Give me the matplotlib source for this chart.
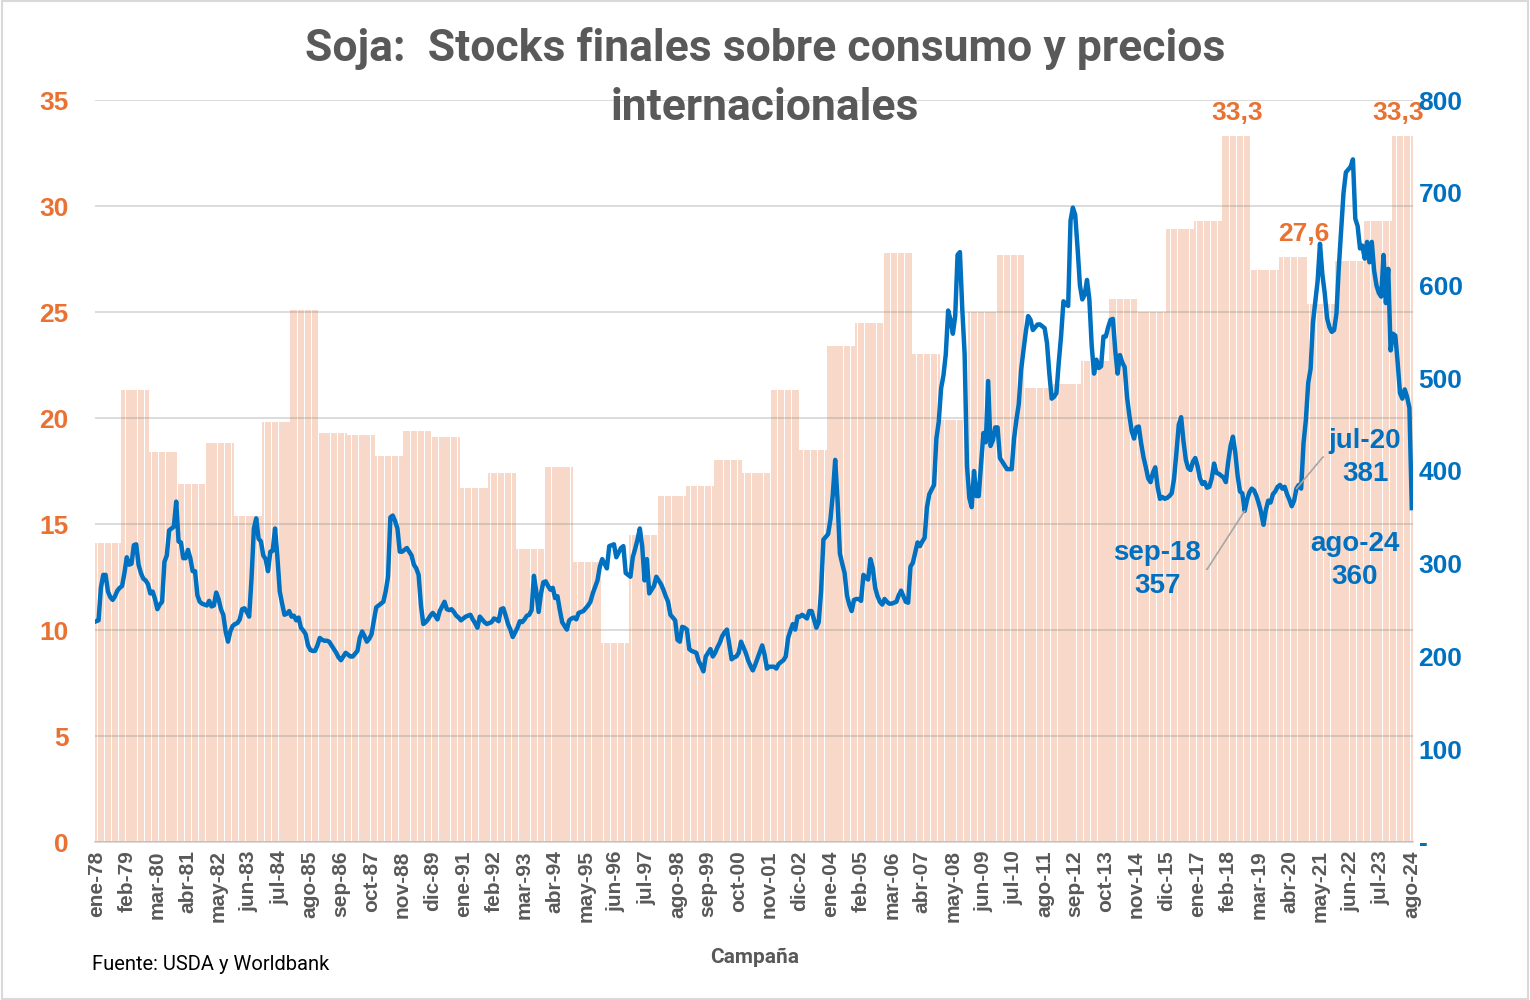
import numpy as np
import matplotlib
matplotlib.use('Agg')
import matplotlib.pyplot as plt

# stocks finales / consumo (%), one value per campaign (first one is partial)
stock_ratio = [14.1, 21.3, 18.4, 16.9, 18.8, 15.4, 19.8, 25.1, 19.3, 19.2,
               18.2, 19.4, 19.1, 16.7, 17.4, 13.8, 17.7, 13.2, 9.4, 14.5,
               16.3, 16.8, 18.0, 17.4, 21.3, 18.5, 23.4, 24.5, 27.8, 23.0,
               19.9, 25.0, 27.7, 21.4, 21.6, 22.7, 25.6, 25.0, 28.9, 29.3,
               33.3, 27.0, 27.6, 25.4, 27.4, 29.3, 33.3]
# months covered by each campaign value
campaign_months = [11] + [12] * 45 + [9]

# monthly soybean price (USD/t), ene-78 .. ago-24
price = [238, 239, 274, 288, 288, 270, 264, 261, 265, 271,
         274, 276, 290, 307, 299, 300, 320, 321, 299, 290,
         284, 282, 278, 268, 270, 262, 251, 256, 259, 302,
         309, 336, 338, 340, 367, 324, 323, 306, 306, 315,
         306, 292, 292, 266, 259, 257, 256, 255, 260, 254,
         255, 269, 262, 251, 245, 227, 216, 227, 233, 235,
         236, 240, 251, 252, 248, 243, 284, 338, 349, 327,
         324, 309, 305, 292, 313, 314, 338, 307, 270, 257,
         245, 246, 249, 243, 244, 239, 242, 231, 228, 224,
         212, 207, 206, 206, 212, 220, 218, 217, 217, 216,
         212, 208, 204, 199, 196, 200, 204, 202, 200, 200,
         203, 206, 220, 227, 222, 216, 219, 224, 239, 253,
         255, 257, 259, 270, 286, 350, 352, 346, 338, 313,
         313, 315, 317, 313, 309, 299, 295, 288, 255, 235,
         237, 240, 244, 247, 244, 240, 249, 254, 259, 251,
         250, 251, 248, 244, 242, 239, 241, 243, 244, 245,
         240, 236, 231, 243, 240, 237, 235, 236, 237, 241,
         240, 238, 251, 252, 244, 235, 229, 221, 226, 231,
         238, 237, 240, 244, 245, 250, 287, 270, 248, 268,
         280, 281, 276, 272, 274, 263, 265, 250, 237, 233,
         229, 239, 241, 242, 240, 247, 248, 249, 252, 255,
         259, 268, 275, 282, 297, 305, 300, 295, 319, 320,
         321, 307, 312, 317, 319, 290, 288, 286, 307, 316,
         326, 338, 319, 282, 305, 268, 272, 276, 286, 282,
         278, 272, 265, 259, 245, 242, 239, 218, 216, 232,
         231, 229, 208, 206, 205, 204, 195, 190, 184, 200,
         204, 208, 200, 204, 210, 215, 222, 226, 229, 213,
         197, 199, 200, 204, 216, 210, 204, 196, 190, 185,
         191, 198, 205, 212, 202, 187, 189, 189, 189, 187,
         192, 194, 196, 200, 220, 228, 235, 229, 243, 243,
         245, 243, 241, 249, 249, 240, 231, 237, 270, 326,
         329, 332, 348, 375, 412, 369, 311, 300, 290, 266,
         256, 249, 261, 262, 262, 260, 288, 285, 283, 305,
         295, 274, 265, 259, 256, 262, 259, 257, 257, 258,
         259, 266, 271, 265, 259, 258, 297, 301, 312, 323,
         319, 324, 328, 361, 375, 380, 385, 435, 453, 489,
         503, 526, 573, 563, 548, 567, 633, 636, 575, 526,
         406, 371, 361, 400, 373, 373, 408, 441, 431, 497,
         427, 433, 447, 447, 414, 410, 406, 402, 402, 402,
         435, 455, 472, 509, 530, 550, 567, 563, 552, 555,
         558, 558, 556, 554, 538, 505, 478, 480, 484, 517,
         546, 583, 580, 578, 670, 684, 676, 640, 600, 585,
         590, 606, 585, 535, 505, 520, 511, 513, 545, 545,
         555, 563, 564, 530, 505, 525, 517, 512, 480, 460,
         443, 435, 447, 448, 430, 415, 404, 392, 388, 398,
         404, 383, 370, 372, 370, 371, 373, 376, 392, 420,
         450, 458, 432, 412, 403, 401, 410, 414, 405, 392,
         386, 388, 382, 383, 392, 408, 398, 397, 395, 393,
         388, 410, 427, 437, 420, 395, 378, 376, 357, 369,
         377, 381, 379, 373, 365, 355, 342, 358, 368, 366,
         375, 378, 383, 385, 381, 383, 375, 369, 362, 368,
         381, 385, 381, 430, 455, 495, 510, 560, 583, 605,
         645, 612, 592, 565, 555, 550, 552, 570, 620, 660,
         700, 722, 725, 728, 736, 672, 664, 640, 643, 629,
         647, 625, 647, 616, 600, 592, 588, 633, 581, 618,
         530, 548, 546, 517, 484, 478, 488, 480, 468, 360]

tick_labels = ['ene-78', 'feb-79', 'mar-80', 'abr-81', 'may-82', 'jun-83', 'jul-84',
               'ago-85', 'sep-86', 'oct-87', 'nov-88', 'dic-89', 'ene-91', 'feb-92',
               'mar-93', 'abr-94', 'may-95', 'jun-96', 'jul-97', 'ago-98', 'sep-99',
               'oct-00', 'nov-01', 'dic-02', 'ene-04', 'feb-05', 'mar-06', 'abr-07',
               'may-08', 'jun-09', 'jul-10', 'ago-11', 'sep-12', 'oct-13', 'nov-14',
               'dic-15', 'ene-17', 'feb-18', 'mar-19', 'abr-20', 'may-21', 'jun-22',
               'jul-23', 'ago-24']

# highlighted points: (month index, label)
bar_labels = [(485, '33,3'), (513, '27,6'), (553, '33,3')]
price_notes = [(488, 'sep-18'), (510, 'jul-20'), (559, 'ago-24')]

ORANGE = '#E97132'
BLUE = '#0070C0'
GRAY = '#595959'
TITLE_FONT = ['Roboto', 'Liberation Sans']

months = np.arange(len(price))
bar_vals = np.repeat(stock_ratio, campaign_months)

fig = plt.figure(figsize=(15.3, 10), dpi=100)
ax = fig.add_axes([0.0621, 0.158, 0.8614, 0.742])

ax.bar(months, bar_vals, width=0.88, color='#F8D9C9', linewidth=0,
       antialiased=False, zorder=1)
ax.set_xlim(-0.5, len(price) - 0.5)
ax.set_ylim(0, 35)
ax.set_yticks(np.arange(0, 36, 5))
ax.yaxis.grid(True, color='#808080', alpha=0.3, linewidth=1.3)
ax.set_axisbelow(False)

ax.set_xticks(months[::13])
ax.set_xticklabels(tick_labels, rotation=90, fontsize=15, color=GRAY,
                   fontweight='bold', family='Liberation Sans')
for lab in ax.get_yticklabels():
    lab.set_color(ORANGE)
    lab.set_fontweight('bold')
    lab.set_fontsize(19)
    lab.set_family('Liberation Sans')
ax.tick_params(length=0)
ax.tick_params(axis='y', pad=19)
ax.tick_params(axis='x', pad=6)
for s in ['top', 'left', 'right']:
    ax.spines[s].set_visible(False)
ax.spines['bottom'].set_color('#D9D9D9')
ax.spines['bottom'].set_linewidth(1.3)

for m, txt in bar_labels:
    ax.annotate(txt, (m, bar_vals[m]), xytext=(0, 8), textcoords='offset points',
                ha='center', va='bottom', color=ORANGE, fontsize=19,
                fontweight='bold', family='Liberation Sans')

ax2 = ax.twinx()
ax2.plot(months, price, color=BLUE, linewidth=3.2, solid_joinstyle='round')
ax2.set_ylim(0, 800)
ax2.set_yticks(np.arange(0, 801, 100))
ax2.set_yticklabels(['-'] + [str(v) for v in range(100, 801, 100)])
for lab in ax2.get_yticklabels():
    lab.set_color(BLUE)
    lab.set_fontweight('bold')
    lab.set_fontsize(19)
    lab.set_family('Liberation Sans')
ax2.tick_params(length=0, pad=4)
for s in ['top', 'left', 'right', 'bottom']:
    ax2.spines[s].set_visible(False)

note_kw = dict(color=BLUE, fontsize=20, fontweight='bold', ha='center',
               va='center', linespacing=1.35, family='Liberation Sans')
leader = dict(arrowstyle='-', color='#A6A6A6', lw=1.2, shrinkA=2, shrinkB=0)
m, name = price_notes[0]
ax2.annotate(f'{name}\n{price[m]}', (m, price[m]), xytext=(450.8, 294),
             arrowprops=dict(leader, relpos=(1, 0.5),
                             connectionstyle='arc,angleA=0,armA=6,angleB=0,armB=0,rad=0'),
             **note_kw)
m, name = price_notes[1]
ax2.annotate(f'{name}\n{price[m]}', (m, price[m]), xytext=(539.2, 415),
             arrowprops=dict(leader, relpos=(0, 0.5),
                             connectionstyle='arc,angleA=180,armA=6,angleB=0,armB=0,rad=0'),
             **note_kw)
m, name = price_notes[2]
ax2.text(534.9, 303, f'{name}\n{price[m]}', **note_kw)

fig.text(0.5, 0.951, 'Soja:  Stocks finales sobre consumo y precios',
         ha='center', va='center', fontsize=32, fontweight='bold', color=GRAY,
         family=TITLE_FONT)
fig.text(0.5, 0.892, 'internacionales', ha='center', va='center', fontsize=32,
         fontweight='bold', color=GRAY, family=TITLE_FONT)
fig.text(0.493, 0.043, 'Campaña', ha='center', va='center', fontsize=15,
         fontweight='bold', color=GRAY, family=TITLE_FONT)
fig.text(0.06, 0.035, 'Fuente: USDA y Worldbank', ha='left', va='center',
         fontsize=14.5, color='black', family=TITLE_FONT)

fig.patches.append(plt.Rectangle((0.001, 0.001), 0.998, 0.998, transform=fig.transFigure,
                                 fill=False, edgecolor='#D9D9D9', linewidth=1.5))

fig.savefig('out.png', dpi=100, facecolor='white')
